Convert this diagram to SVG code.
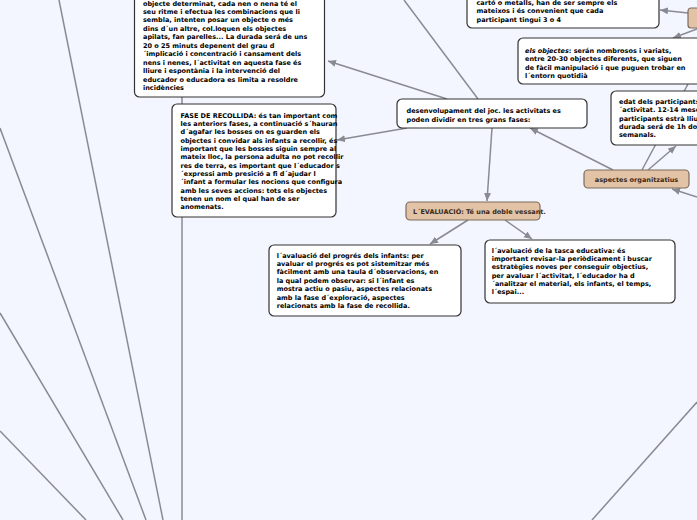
<svg xmlns="http://www.w3.org/2000/svg" width="697" height="520" viewBox="0 0 697 520">
<defs>
<marker id="ah" markerUnits="userSpaceOnUse" markerWidth="10" markerHeight="8" refX="8" refY="3.5" orient="auto">
<path d="M0,0 L8,3.5 L0,7 z" fill="#8a8a93"/>
</marker>
<style>
.ln{stroke:#8a8a93;stroke-width:1.5;fill:none}
.ar{stroke:#8a8a93;stroke-width:1.5;fill:none;marker-end:url(#ah)}
.box{fill:#ffffff;stroke:#333333;stroke-width:1.2}
.org{fill:#e2c3a6;stroke:#7d6a5c;stroke-width:1.2}
text{font-family:"DejaVu Sans","Verdana",sans-serif;font-weight:bold;font-size:6.5px;fill:#000000}
</style>
</defs>
<rect x="0" y="0" width="697" height="520" fill="#f3f6fe"/>
<g id="connectors">
<line class="ln" x1="182" y1="97" x2="182" y2="520"/>
<line class="ln" x1="0" y1="313" x2="123" y2="520"/>
<line class="ln" x1="0" y1="431" x2="86" y2="520"/>
<line class="ln" x1="0" y1="128" x2="146" y2="520"/>
<line class="ln" x1="59" y1="0" x2="163" y2="520"/>
<line class="ln" x1="697" y1="402" x2="592" y2="520"/>
<line class="ar" x1="447" y1="99" x2="328" y2="61"/>
<line class="ln" x1="478" y1="99" x2="404" y2="0"/>
<line class="ar" x1="407" y1="128" x2="337" y2="140"/>
<line class="ar" x1="492" y1="128" x2="487" y2="201"/>
<line class="ar" x1="468" y1="220" x2="430" y2="244"/>
<line class="ar" x1="505" y1="220" x2="532" y2="239"/>
<line class="ar" x1="613" y1="170" x2="530" y2="128"/>
<line class="ln" x1="642" y1="170" x2="688" y2="84"/>
<line class="ar" x1="648" y1="170" x2="676" y2="146"/>
<line class="ar" x1="697" y1="197" x2="672" y2="189"/>
<line class="ar" x1="697" y1="29" x2="673" y2="38"/>
<line class="ar" x1="688" y1="13" x2="660" y2="10"/>
</g>
<g id="node-exploracio">
<rect class="box" x="134.5" y="-10" width="190" height="107" rx="5"/>
<text x="143" y="5.5">objecte determinat, cada nen o nena té el</text>
<text x="143" y="14">seu ritme i efectua les combinacions que li</text>
<text x="143" y="22.4">sembla, intenten posar un objecte o més</text>
<text x="143" y="30.9">dins d´un altre, col.loquen els objectes</text>
<text x="143" y="39.3">apilats, fan parelles... La durada será de uns</text>
<text x="143" y="47.8">20 o 25 minuts depenent del grau d</text>
<text x="143" y="56.2">´implicació i concentració i cansament dels</text>
<text x="143" y="64.7">nens i nenes, l´activitat en aquesta fase és</text>
<text x="143" y="73.1">lliure i espontània i la intervenció del</text>
<text x="143" y="81.6">educador o educadora es limita a resoldre</text>
<text x="143" y="90">incidències</text>
</g>
<g id="node-recollida">
<rect class="box" x="172" y="104" width="164" height="113" rx="5"/>
<text x="180.5" y="117.5">FASE DE RECOLLIDA: és tan important com</text>
<text x="180.5" y="125.9">les anteriors fases, a continuació s´hauran</text>
<text x="180.5" y="134.2">d´agafar les bosses on es guarden els</text>
<text x="180.5" y="142.6">objectes i convidar als infants a recollir, és</text>
<text x="180.5" y="150.9">important que les bosses siguin sempre al</text>
<text x="180.5" y="159.3">mateix lloc, la persona adulta no pot recollir</text>
<text x="180.5" y="167.6">res de terra, es important que l´educador s</text>
<text x="180.5" y="176">´expressi amb presició a fi d´ajudar l</text>
<text x="180.5" y="184.3">´infant a formular les nocions que configura</text>
<text x="180.5" y="192.7">amb les seves accions: tots els objectes</text>
<text x="180.5" y="201">tenen un nom el qual han de ser</text>
<text x="180.5" y="209.4">anomenats.</text>
</g>
<g id="node-bosses">
<rect class="box" x="467" y="-10" width="192" height="38" rx="5"/>
<text x="476.5" y="4.5">cartó o metalls, han de ser sempre els</text>
<text x="476.5" y="13">mateixos i és convenient que cada</text>
<text x="476.5" y="21.5">participant tingui 3 o 4</text>
</g>
<g id="node-top-right">
<rect class="org" x="688" y="8" width="20" height="20" rx="3"/>
</g>
<g id="node-objectes">
<rect class="box" x="518" y="38" width="190" height="46" rx="5"/>
<text x="525" y="52.5"><tspan font-style="italic">els objectes</tspan>: serán nombrosos i variats,</text>
<text x="525" y="61">entre 20-30 objectes diferents, que siguen</text>
<text x="525" y="69.5">de fàcil manipulació i que puguen trobar en</text>
<text x="525" y="78">l´entorn quotidià</text>
</g>
<g id="node-edat">
<rect class="box" x="611" y="91" width="100" height="54" rx="5"/>
<text x="619" y="104">edat dels participants</text>
<text x="619" y="112.3">´activitat. 12-14 mesos</text>
<text x="619" y="120.6">participants estrà lliure</text>
<text x="619" y="128.9">durada será de 1h dos</text>
<text x="619" y="137.2">semanals.</text>
</g>
<g id="node-desenvolupament">
<rect class="box" x="397" y="99" width="190" height="29" rx="5"/>
<text x="406.5" y="113">desenvolupament del joc. les activitats es</text>
<text x="406.5" y="121.5">poden dividir en tres grans fases:</text>
</g>
<g id="node-aspectes">
<rect class="org" x="584" y="170" width="105" height="18" rx="4"/>
<text x="636.5" y="181.5" text-anchor="middle" style="fill:#3a2a20">aspectes organitzatius</text>
</g>
<g id="node-avaluacio">
<rect class="org" x="406" y="202" width="134" height="18" rx="4"/>
<text x="413" y="213.5" style="fill:#3a2a20">L´EVALUACIÓ: Té una doble vessant.</text>
</g>
<g id="node-progres">
<rect class="box" x="269" y="245" width="192" height="71" rx="5"/>
<text x="276.7" y="257.5">l´avaluació del progrés dels infants: per</text>
<text x="276.7" y="265.9">avaluar el progrés es pot sistemitzar més</text>
<text x="276.7" y="274.3">fàcilment amb una taula d´observacions, en</text>
<text x="276.7" y="282.7">la qual podem observar: si l´infant es</text>
<text x="276.7" y="291.1">mostra actiu o pasiu, aspectes relacionats</text>
<text x="276.7" y="299.5">amb la fase d´exploració, aspectes</text>
<text x="276.7" y="307.9">relacionats amb la fase de recollida.</text>
</g>
<g id="node-tasca">
<rect class="box" x="485" y="240" width="190" height="63" rx="5"/>
<text x="491.7" y="252.5">l´avaluació de la tasca educativa: és</text>
<text x="491.7" y="260.9">important revisar-la periòdicament i buscar</text>
<text x="491.7" y="269.2">estratègies noves per conseguir objectius,</text>
<text x="491.7" y="277.6">per avaluar l´activitat, l´educador ha d</text>
<text x="491.7" y="285.9">´analitzar el material, els infants, el temps,</text>
<text x="491.7" y="294.3">l´espai...</text>
</g>
</svg>
